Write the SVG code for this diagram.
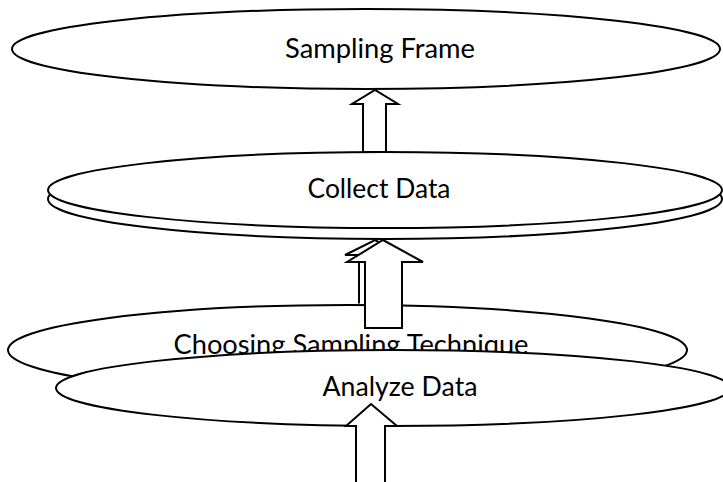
<svg xmlns="http://www.w3.org/2000/svg" width="723" height="482" viewBox="0 0 723 482">
<style>
.shape{fill:#fff;stroke:#000;stroke-width:2}
.arrow{fill:#fff;stroke:#000;stroke-width:2;stroke-linejoin:miter}
.label{font-family:Lato,"Liberation Sans",sans-serif;font-size:27px;fill:#000;text-anchor:middle}
</style>
<rect width="723" height="482" fill="#fff"/>
<g id="sampling-frame">
<ellipse class="shape" cx="366" cy="49" rx="354" ry="40"/>
<text class="label" x="380" y="58" textLength="190" lengthAdjust="spacingAndGlyphs">Sampling Frame</text>
</g>
<g id="collect-data">
<ellipse class="shape" cx="385" cy="199" rx="337" ry="40"/>
<ellipse class="shape" cx="385" cy="190" rx="337" ry="38"/>
<text class="label" x="379" y="198" textLength="143" lengthAdjust="spacingAndGlyphs">Collect Data</text>
</g>
<g id="choosing-sampling-technique">
<ellipse class="shape" cx="347.5" cy="350" rx="339.5" ry="45"/>
<text class="label" x="351" y="354" textLength="355" lengthAdjust="spacingAndGlyphs">Choosing Sampling Technique</text>
</g>
<g id="analyze-data">
<ellipse class="shape" cx="393" cy="388" rx="337" ry="38"/>
<text class="label" x="400" y="396" textLength="155" lengthAdjust="spacingAndGlyphs">Analyze Data</text>
</g>
<g id="connectors">
<polygon class="arrow" points="363,152 363,104 352,104 375,90 398,104 386,104 386,152"/>
<path class="arrow" d="M359,303.5 L359,255 L345,255 L375,240 L405,255 L393,255 L393,303.5"/>
<polygon class="arrow" points="365,328 365,262 347,262 383,240 423,262 402,262 402,328"/>
<path class="arrow" d="M356,483 L356,426 L346,426 L371,404 L397,426 L385,426 L385,483"/>
</g>
</svg>
